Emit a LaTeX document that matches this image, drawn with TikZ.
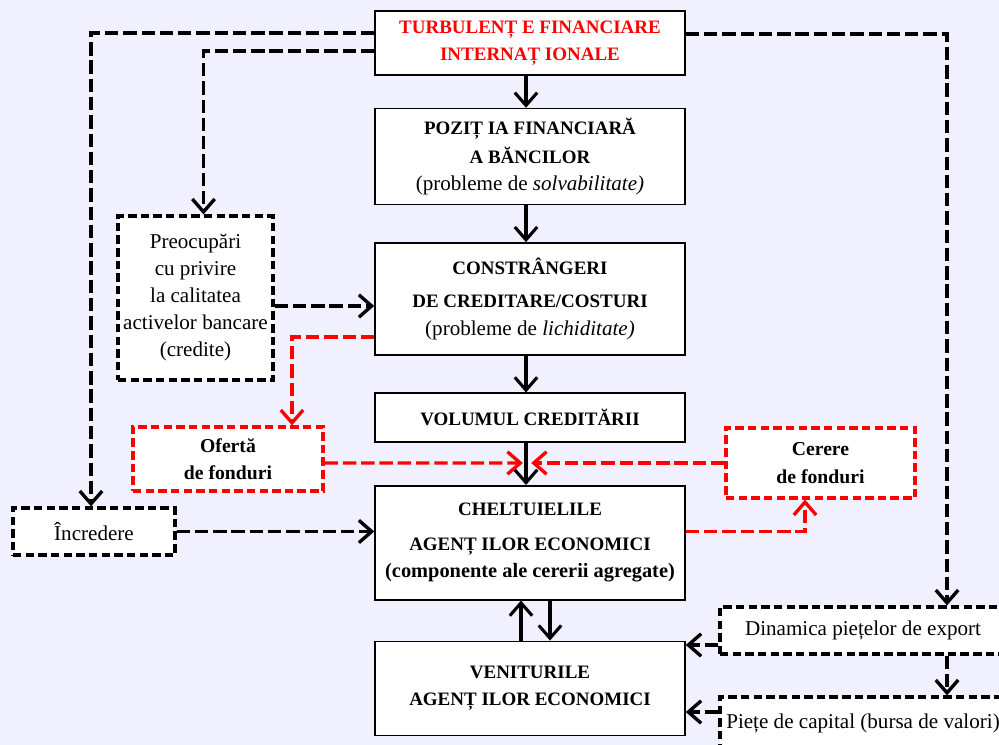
\documentclass[tikz,border=0pt]{standalone}
\usepackage{fontspec}
\setmainfont{Liberation Serif}
\usetikzlibrary{arrows.meta,positioning}
\definecolor{bglilac}{RGB}{240,240,254}
\newcommand{\lowline}[1]{{\fontsize{15}{19}\selectfont #1}}

\begin{document}
\begin{tikzpicture}[
    node distance=0.95cm,
    font=\fontsize{15}{19.2}\selectfont,
    main/.style={rectangle, draw, line width=1.1pt, fill=white, align=center, minimum width=7.75cm, font=\fontsize{13.5}{19.5}\selectfont\bfseries},
    side/.style={rectangle, draw, line width=2.3pt, dash pattern=on 6pt off 3pt, fill=white, align=center, inner sep=2pt},
    redside/.style={side, draw=red, font=\fontsize{14}{19.5}\selectfont\bfseries},
    arrow/.style={-{Straight Barb[length=3.2mm,width=5.6mm]}, line width=2.2pt},
    dline/.style={arrow, line width=2.4pt, dash pattern=on 9.5pt off 3.5pt},
    rline/.style={dline, red}
]
    \fill[bglilac] (0,0) rectangle (24.975,-18.625);
    \useasboundingbox (0,0) rectangle (24.975,-18.625);

    \node[main, text=red, minimum height=1.6cm] (turb) at (13.25,-1.075) {TURBULENȚ E FINANCIARE\\INTERNAȚ IONALE};
    \node[main, minimum height=2.4cm, below=0.8cm of turb] (poz) {POZIȚ IA FINANCIARĂ\\[1pt]A BĂNCILOR\\\textnormal{\lowline{(probleme de \textit{solvabilitate)}}}};
    \node[main, minimum height=2.8cm, below=0.92cm of poz] (constr) {CONSTRÂNGERI\\[4pt]DE CREDITARE/COSTURI\\\textnormal{\lowline{(probleme de \textit{lichiditate)}}}};
    \node[main, minimum height=1.225cm, below=0.92cm of constr] (vol) {VOLUMUL CREDITĂRII};
    \node[main, minimum height=2.85cm, below=1.05cm of vol] (chelt) {CHELTUIELILE\\[5pt]AGENȚ ILOR ECONOMICI\\{\fontsize{14.5}{19}\selectfont (componente ale cererii agregate)}};
    \node[main, minimum height=2.35cm, below=1.0cm of chelt] (venit) {VENITURILE\\AGENȚ ILOR ECONOMICI};

    \node[side, minimum width=3.875cm, minimum height=4.1cm] (pre) at (4.8875,-7.45) {Preocupări\\cu privire\\la calitatea\\activelor bancare\\(credite)};
    \node[redside, minimum width=4.75cm, minimum height=1.6cm] (ofer) at (5.7,-11.475) {Ofertă\\de fonduri};
    \node[redside, minimum width=4.725cm, minimum height=1.75cm] (cer) at (20.5125,-11.575) {Cerere\\de fonduri};
    \node[side, minimum width=4.05cm, minimum height=1.175cm] (incr) at (2.35,-13.2875) {Încredere};
    \node[side, minimum width=7.15cm, minimum height=1.175cm] (din) at (21.575,-15.7625) {Dinamica piețelor de export};
    \node[side, minimum width=7.15cm, minimum height=1.3cm] (piete) at (21.575,-18.075) {Piețe de capital (bursa de valori)};

    \coordinate (meetl) at (13.07,-11.575);
    \coordinate (meetr) at (13.28,-11.575);
    \coordinate (preout) at ([yshift=-0.2cm]pre.east);
    \coordinate (incrout) at (incr.east);
    \coordinate (dinout) at ([yshift=-0.3625cm]din.west);
    \coordinate (pieteout) at ([yshift=0.275cm]piete.west);
    \coordinate (up) at ([xshift=-0.225cm]venit.north);
    \coordinate (down) at ([xshift=0.5cm]venit.north);

    \draw[arrow] ([xshift=-0.1cm]turb.south) -- ([xshift=-0.1cm]poz.north);
    \draw[arrow] ([xshift=-0.1cm]poz.south) -- ([xshift=-0.1cm]constr.north);
    \draw[arrow] ([xshift=-0.1cm]constr.south) -- ([xshift=-0.1cm]vol.north);
    \draw[arrow] ([xshift=-0.1cm]vol.south) -- ([xshift=-0.1cm]chelt.north);
    \draw[arrow] (up) -- (up |- chelt.south);
    \draw[arrow] (down |- chelt.south) -- (down);

    \draw[dline] ([yshift=0.25cm]turb.west) -| ([xshift=-0.075cm]incr.north);
    \draw[dline] ([yshift=-0.2cm]turb.west) -| ([xshift=0.2cm]pre.north);
    \draw[dline] ([yshift=0.225cm]turb.east) -| ([xshift=2.1cm]din.north);
    \draw[dline] ([xshift=2.1cm]din.south) -- ([xshift=2.1cm]piete.north);
    \draw[dline] (preout) -- (preout -| constr.west);
    \draw[dline] (incrout) -- (incrout -| chelt.west);
    \draw[dline] (dinout) -- (dinout -| venit.east);
    \draw[dline] (pieteout) -- (pieteout -| venit.east);

    \draw[rline] ([yshift=-0.95cm]constr.west) -| ([xshift=1.6cm]ofer.north);
    \draw[rline] ([yshift=-0.1cm]ofer.east) -- (meetl);
    \draw[rline] (cer.west) -- (meetr);
    \draw[rline] ([yshift=0.275cm]chelt.east) -| ([xshift=-0.3875cm]cer.south);
\end{tikzpicture}
\end{document}
